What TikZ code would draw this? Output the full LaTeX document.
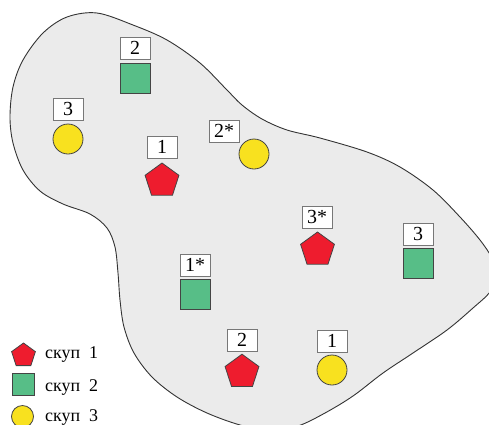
\documentclass[tikz,border=0pt]{standalone}
\usepackage{fontspec}
\setmainfont{Liberation Serif}
\usetikzlibrary{shapes.geometric}

\definecolor{regionfill}{HTML}{EBEBEB}
\definecolor{regionline}{HTML}{333333}
\definecolor{grpred}{HTML}{EE1C2E}
\definecolor{grpgreen}{HTML}{57BE87}
\definecolor{grpyellow}{HTML}{F8E11F}
\definecolor{shapeline}{HTML}{444444}
\definecolor{tagline}{HTML}{777777}

\newcommand\legendfont{\fontsize{18}{18}\selectfont\spaceskip 9bp\relax}

\tikzset{
  region/.style={draw=regionline, fill=regionfill, line width=0.9bp},
  tag/.style={draw=tagline, fill=white, line width=1bp, minimum width=30bp,
    minimum height=22bp, inner sep=0pt, font=\fontsize{20}{20}\selectfont},
  penta/.style={regular polygon, regular polygon sides=5, draw=shapeline,
    fill=grpred, line width=0.8bp, inner sep=0pt, minimum size=#1},
  penta/.default=35.6bp,
  sq/.style={rectangle, draw=shapeline, fill=grpgreen, line width=0.8bp,
    inner sep=0pt, minimum size=#1},
  sq/.default=30bp,
  disc/.style={circle, draw=shapeline, fill=grpyellow, line width=0.8bp,
    inner sep=0pt, minimum size=#1},
  disc/.default=30bp,
  legtext/.style={anchor=base west, inner sep=0pt, font=\legendfont}
}

\begin{document}
\begin{tikzpicture}[x=1bp, y=-1bp]
\useasboundingbox (0,0) rectangle (489,424);

% the region
\begin{scope}
\clip (0,0) rectangle (489,424);
\draw[region] plot[smooth cycle, tension=0.55] coordinates {
  (97,13) (133,25) (167,40) (200,63) (227,90) (242,105) (262,119)
  (287,130) (320,138) (367,152) (400,167) (433,190) (460,217) (480,240)
  (492,258) (498,275) (490,292) (473,308) (447,330) (413,353) (383,373)
  (353,396) (325,413) (298,426) (270,431) (240,425) (207,413) (177,397)
  (152,377) (134,353) (124,327) (120,300) (118,273) (115,247) (107,228)
  (90,214) (63,204) (40,191) (23,170) (13,143) (10,117) (13,87) (23,60)
  (43,33) (67,17)};
\end{scope}

% green squares
\node[sq] (sqA) at (135,78) {};
\node[tag] (tagA) at (135,48) {2};
\node[sq] (sqB) at (418,263) {};
\node[tag] (tagB) at (418,234) {3};
\node[sq] (sqC) at (195,294) {};
\node[tag] (tagC) at (195,265) {1*};

% yellow discs
\node[disc] (diA) at (68,139) {};
\node[tag] (tagD) at (68,109) {3};
\node[disc] (diB) at (254,154) {};
\node[tag] (tagE) at (224,131) {2*};
\node[disc] (diC) at (332,370) {};
\node[tag] (tagF) at (332,341) {1};

% red pentagons
\node[penta] (peA) at (162,180.8) {};
\node[tag] (tagG) at (162,147) {1};
\node[penta] (peB) at (317.5,249.8) {};
\node[tag] (tagH) at (317,217) {3*};
\node[penta] (peC) at (242,372) {};
\node[tag] (tagI) at (242,340) {2};

% legend
\node[penta=25bp] (legP) at (23.5,355.5) {};
\node[legtext] (legPt) at (45,358) {скуп 1};
\node[sq=22bp] (legS) at (23,384) {};
\node[legtext] (legSt) at (45,391) {скуп 2};
\node[disc=22bp] (legC) at (22.5,416.5) {};
\node[legtext] (legCt) at (45,421.5) {скуп 3};
\end{tikzpicture}
\end{document}
